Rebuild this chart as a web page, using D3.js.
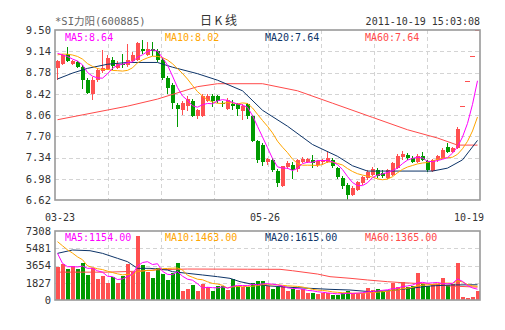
<!DOCTYPE html>
<html><head><meta charset="utf-8">
<script src="https://cdn.jsdelivr.net/npm/d3@7/dist/d3.min.js"></script>
<style>body{margin:0;background:#fff}svg{display:block}</style>
</head><body><svg id="c" width="505" height="330"></svg>
<script>
// ---------- data ----------
const stockTitle = "*SI力阳(600885)";
const chartType = "日K线";
const stamp = "2011-10-19 15:03:08";
const dateLabels = [{i:0,t:"03-23"},{i:41,t:"05-26"},{i:84,t:"10-19"}];
const priceTicks = [6.62,6.98,7.34,7.70,8.06,8.42,8.78,9.14,9.50];
const volumeTicks = [0,1827,3654,5481,7308];
const priceLegend = ["MA5:8.64","MA10:8.02","MA20:7.64","MA60:7.64"];
const volumeLegend = ["MA5:1154.00","MA10:1463.00","MA20:1615.00","MA60:1365.00"];

const opens  = [8.86,8.93,9.10,8.93,8.95,8.88,8.66,8.42,8.66,8.80,8.84,9.00,8.86,8.92,8.90,8.97,9.00,9.17,9.08,9.17,
                9.14,9.00,8.69,8.57,8.23,8.15,8.22,8.30,8.04,8.05,8.30,8.38,8.38,8.26,8.17,8.25,8.24,8.13,8.25,8.04,
                7.62,7.55,7.26,7.30,7.11,6.86,7.18,7.22,7.14,7.27,7.27,7.30,7.22,7.26,7.26,7.30,7.16,7.00,6.88,6.71,
                6.79,6.90,6.99,7.05,7.13,7.07,7.00,7.04,7.16,7.35,7.39,7.33,7.27,7.36,7.28,7.11,7.30,7.34,7.52,7.44,
                7.50,8.21,8.62,9.05,9.50];
const highs  = [9.00,9.10,9.22,9.00,8.98,8.90,8.68,8.70,8.85,9.16,9.08,9.05,8.97,9.10,9.27,9.12,9.30,9.33,9.30,9.29,
                9.18,9.02,8.72,8.60,8.26,8.29,8.38,8.33,8.16,8.42,8.42,8.42,8.40,8.30,8.34,8.32,8.27,8.24,8.27,8.06,
                7.64,7.58,7.34,7.34,7.14,7.20,7.28,7.26,7.32,7.35,7.33,7.38,7.30,7.31,7.43,7.33,7.18,7.02,6.90,6.85,
                6.95,7.03,7.12,7.18,7.16,7.12,7.15,7.27,7.40,7.45,7.42,7.36,7.40,7.44,7.30,7.32,7.38,7.50,7.58,7.52,
                7.85,8.21,8.62,9.05,9.50];
const lows   = [8.66,8.90,8.95,8.90,8.85,8.50,8.41,8.31,8.62,8.78,8.82,8.82,8.84,8.86,8.88,8.95,8.98,9.10,9.06,9.06,
                8.96,8.66,8.42,8.17,7.86,8.06,8.12,8.02,8.00,8.03,8.28,8.20,8.26,8.20,8.15,8.15,8.05,7.98,8.00,7.60,
                7.25,7.20,7.22,7.10,6.84,6.84,7.15,6.98,7.10,7.24,7.24,7.16,7.18,7.22,7.24,7.17,6.98,6.80,6.62,6.68,
                6.77,6.88,6.96,7.02,7.00,7.00,6.98,7.02,7.14,7.30,7.30,7.24,7.25,7.28,7.10,7.10,7.27,7.32,7.42,7.42,
                7.48,8.21,8.62,9.05,9.50];
const closes = [8.97,9.08,8.97,8.97,8.88,8.65,8.43,8.66,8.82,8.86,9.02,8.89,8.93,8.90,9.00,9.08,9.28,9.14,9.18,9.14,
                8.99,8.69,8.52,8.26,8.17,8.27,8.33,8.05,8.14,8.38,8.38,8.30,8.30,8.24,8.32,8.21,8.16,8.22,8.04,7.62,
                7.30,7.26,7.31,7.13,6.91,7.19,7.25,7.12,7.30,7.32,7.31,7.24,7.28,7.29,7.33,7.19,7.01,6.86,6.70,6.82,
                6.93,7.01,7.10,7.14,7.03,7.03,7.13,7.25,7.37,7.40,7.33,7.27,7.36,7.30,7.12,7.30,7.36,7.47,7.44,7.50,
                7.82,8.21,8.62,9.05,9.50];
const volumes = [3530,3812,3283,3600,3283,3954,2648,3354,2224,2542,1836,2400,1836,2542,3812,3000,6778,3706,3000,2295,
                 3424,2753,2118,2824,3954,953,1165,1589,953,1694,1341,953,1483,1483,1059,2224,1483,1412,1412,1750,
                 2010,2010,1450,1165,1341,1483,988,1130,1059,1130,777,777,635,777,777,530,530,706,988,706,
                 706,706,1236,1059,1130,988,988,1836,1341,1942,1341,1483,2895,1694,1483,1550,1650,2350,1550,1700,
                 3900,353,177,282,1000];
// sessions before the first visible bar (needed for the short moving averages)
const priorCloses  = [8.95,9.00,9.10,9.12,9.10,9.20,9.12,9.18,9.05];
const priorVolumes = [8200,7600,7000,7300,7000,9100,5050,3600,3420];
// long moving averages: [bar index, value]
const priceMA20 = [[0,8.67],[3,8.77],[6,8.85],[10,8.92],[14,8.95],[20,8.95],[23,8.87],[28,8.76],[32,8.65],[37,8.47],
                   [41,8.14],[46,7.87],[51,7.56],[56,7.36],[59,7.20],[62,7.11],[75,7.11],[78,7.16],[81,7.30],[84,7.63]];
const priceMA60 = [[0,7.98],[14,8.21],[20,8.33],[28,8.54],[32,8.59],[41,8.59],[48,8.47],[55,8.26],[63,8.02],[70,7.81],
                   [76,7.67],[80,7.55],[84,7.55]];
const volumeMA20 = [[0,4940],[3,5295],[6.5,5220],[9,4940],[12,4412],[14,4060],[16,3353],[18.5,3353],[22,3177],[23,3000],
                    [26,2824],[29,2650],[32,2470],[34.5,2295],[36.5,1941],[38.5,1720],[42.5,1483],[46.5,1341],[50.5,1236],
                    [54.5,1130],[58.5,1059],[62.5,882],[66.5,988],[70.5,1236],[74.5,1483],[78.5,1589],[84,1615]];
const volumeMA60 = [[0,2950],[10,2950],[16,3050],[20,3200],[26,3280],[38,3260],[44.5,3250],[47,3100],[52,2750],
                    [54.5,2470],[58.5,2300],[62,2120],[66,1940],[69,1835],[74,1694],[78.5,1483],[84,1365]];

// ---------- chart ----------
const N = closes.length;
const C = {red:"#ff5050", green:"#009a00", ma5:"#ff00ff", ma10:"#ffa500", ma20:"#0d3468", ma60:"#ff4a4a",
           grid:"#d4d4d4", frame:"#999", text:"#333"};
const svg = d3.select("#c");
const L = 55, R = 480, PT = 30, PB = 200, VT = 231, VB = 300;

const x = d3.scaleBand().domain(d3.range(N)).range([L, R]);
const xc = d3.scaleLinear().domain([0, N-1]).range([x(0)+x.bandwidth()/2, x(N-1)+x.bandwidth()/2]);
const y = d3.scaleLinear().domain([priceTicks[0], priceTicks[priceTicks.length-1]]).range([PB, PT]);
const yv = d3.scaleLinear().domain([0, volumeTicks[volumeTicks.length-1]]).range([VB, VT]);

function movingAvg(vals, prior, n){
  const all = prior.concat(vals), off = prior.length;
  return vals.map((v,i)=>[i, d3.mean(all.slice(off+i-n+1, off+i+1))]);
}

const mono = "'DejaVu Sans Mono', monospace";
const vGrid = d3.range(1,8).map(k => L + k*(R-L)/8);

function panel(top, bottom, scale, ticks, fmt){
  const g = svg.append("g");
  g.selectAll("line.h").data(ticks.slice(1,-1)).join("line")
    .attr("x1",L).attr("x2",R).attr("y1",d=>Math.round(scale(d))+0.5).attr("y2",d=>Math.round(scale(d))+0.5)
    .attr("stroke",C.grid).attr("stroke-dasharray","4,3");
  g.selectAll("line.v").data(vGrid).join("line")
    .attr("x1",d=>Math.round(d)+0.5).attr("x2",d=>Math.round(d)+0.5).attr("y1",top).attr("y2",bottom)
    .attr("stroke",C.grid).attr("stroke-dasharray","4,3");
  const ax = svg.append("g").attr("transform",`translate(${L},0)`)
    .call(d3.axisLeft(scale).tickValues(ticks).tickFormat(fmt).tickSize(0).tickPadding(4));
  ax.select(".domain").remove();
  ax.selectAll("text").attr("font-family",mono).attr("font-size","10.5px").attr("fill",C.text);
}
panel(PT, PB, y, priceTicks, d3.format(".2f"));
panel(VT, VB, yv, volumeTicks, d3.format("d"));

// candles
const idx = d3.range(N);
const up = i => closes[i] >= opens[i];
const cg = svg.append("g").attr("shape-rendering","crispEdges");
cg.selectAll("line.w").data(idx).join("line")
  .attr("x1",i=>Math.floor(xc(i))+0.5).attr("x2",i=>Math.floor(xc(i))+0.5)
  .attr("y1",i=>y(highs[i])).attr("y2",i=>y(lows[i]))
  .attr("stroke",i=>up(i)?C.red:C.green);
cg.selectAll("rect.b").data(idx).join("rect")
  .attr("x",i=>Math.round(x(i))+ (highs[i]===lows[i]?0:1))
  .attr("width",i=>highs[i]===lows[i]?5:4)
  .attr("y",i=>Math.min(y(opens[i]),y(closes[i])) - (highs[i]===lows[i]?0.5:0))
  .attr("height",i=>Math.max(1,Math.abs(y(opens[i])-y(closes[i]))))
  .attr("fill",i=>up(i)?C.red:C.green);

// volume bars
cg.selectAll("rect.v").data(idx).join("rect")
  .attr("x",i=>Math.round(x(i))+1).attr("width",4)
  .attr("y",i=>yv(volumes[i])).attr("height",i=>yv(0)-yv(volumes[i]))
  .attr("fill",i=>up(i)?C.red:C.green);

// moving averages
function drawLine(pts, scale, color){
  svg.append("path").datum(pts)
    .attr("d", d3.line().x(d=>xc(d[0])).y(d=>scale(d[1])))
    .attr("fill","none").attr("stroke",color).attr("stroke-width",1);
}
drawLine(priceMA60, y, C.ma60);
drawLine(priceMA20, y, C.ma20);
drawLine(movingAvg(closes, priorCloses, 10), y, C.ma10);
drawLine(movingAvg(closes, priorCloses, 5), y, C.ma5);
drawLine(volumeMA60, yv, C.ma60);
drawLine(volumeMA20, yv, C.ma20);
drawLine(movingAvg(volumes, priorVolumes, 10), yv, C.ma10);
drawLine(movingAvg(volumes, priorVolumes, 5), yv, C.ma5);

// frames
[[PT,PB],[VT,VB]].forEach(([t,b])=>{
  svg.append("rect").attr("x",L).attr("y",t).attr("width",R-L).attr("height",b-t)
    .attr("fill","none").attr("stroke",C.frame).attr("stroke-width",1.6);
});

// legends
const legColors = [C.ma5, C.ma10, C.ma20, C.ma60];
const legX = [65,165,265,365];
[[priceLegend, 40.5],[volumeLegend, 241]].forEach(([arr,yy])=>{
  svg.append("g").selectAll("text").data(arr).join("text")
    .attr("x",(d,k)=>legX[k]).attr("y",yy).text(d=>d)
    .attr("font-family",mono).attr("font-size","10px").attr("fill",(d,k)=>legColors[k]);
});

// date labels
svg.append("g").selectAll("text").data(dateLabels).join("text")
  .attr("x",d=>Math.min(xc(d.i)+2.5, R+4-15)).attr("y",221).attr("text-anchor","middle")
  .text(d=>d.t).attr("font-family",mono).attr("font-size","10px").attr("fill",C.text);

// header
svg.append("text").attr("x",55).attr("y",25).text(stockTitle)
  .attr("font-family","'DejaVu Sans Mono','Noto Sans CJK SC',monospace").attr("font-size","10.5px").attr("fill","#666");
svg.append("text").attr("x",200).attr("y",25).text(chartType).attr("textLength",37)
  .attr("font-family","'Noto Sans CJK SC',sans-serif").attr("font-size","12px").attr("fill",C.text);
svg.append("text").attr("x",480).attr("y",25).attr("text-anchor","end").text(stamp)
  .attr("font-family",mono).attr("font-size","10px").attr("fill",C.text);
</script></body></html>
